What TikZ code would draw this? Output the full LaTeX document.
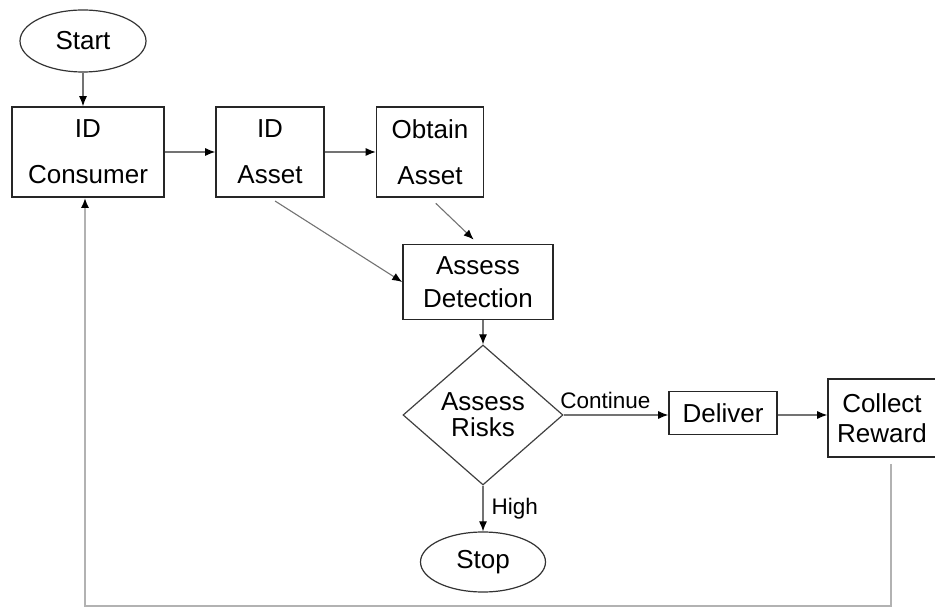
\documentclass[tikz,border=0pt]{standalone}
\usepackage{fontspec}
\setmainfont{Liberation Sans}
\usetikzlibrary{shapes.geometric,arrows.meta}
\begin{document}
\begin{tikzpicture}[x=1pt,y=-1pt,
    every node/.style={font=\fontsize{26}{30}\selectfont,align=center,inner sep=0pt},
    box/.style={draw=black!85,line width=1.6pt,rectangle},
    oval/.style={draw=black!80,line width=1.2pt,ellipse},
    lbl/.style={font=\fontsize{22.5}{26}\selectfont},
    link/.style={draw=black!55,line width=1.1pt,-{Latex[length=10pt,width=8pt,black]}},
    back/.style={draw=black!30,line width=2.2pt,-{Latex[length=10pt,width=8pt,black]}}]
  \useasboundingbox (0,0) rectangle (935,609);
  \node[oval,minimum width=126,minimum height=62] (start) at (83,41) {Start};
  \node[box,minimum width=152,minimum height=90] (idcons) at (88,152) {ID\\[16pt]Consumer};
  \node[box,minimum width=108,minimum height=90] (idasset) at (270,152) {ID\\[16pt]Asset};
  \node[box,minimum width=107,minimum height=90] (obtain) at (430,152) {Obtain\\[16pt]Asset};
  \node[box,minimum width=150,minimum height=75] (detect) at (478,282) {Assess\\[3pt]Detection};
  \node[diamond,draw=black!75,line width=1.2pt,minimum width=160,minimum height=140] (risk) at (483,415) {Assess\\[-4pt]Risks};
  \node[box,minimum width=108,minimum height=43] (deliver) at (723,413) {Deliver};
  \node[box,minimum width=108,minimum height=78] (reward) at (882,418) {Collect\\Reward};
  \node[oval,minimum width=125,minimum height=60] (stop) at (483,562) {Stop};
  \coordinate (loop) at (85,606);
  % main flow
  \draw[link] (start) -- (start |- idcons.north);
  \draw[link] (idcons) -- (idasset);
  \draw[link] (idasset) -- (obtain);
  \draw[link,shorten <=6pt] (idasset.south) -- (detect.west);
  \draw[link,shorten <=8pt,shorten >=6pt] (obtain.south) -- (detect.north);
  \draw[link] (risk.north |- detect.south) -- (risk.north);
  \draw[link] (risk.east) -- (risk.east -| deliver.west) node[lbl,pos=0.4,above=6pt] (cont) {Continue};
  \draw[link] (deliver.east |- risk.east) -- (risk.east -| reward.west);
  \draw[link] (risk.south) -- (stop.north) node[lbl,midway,right=8pt] (high) {High};
  % loop back
  \draw[back,shorten <=6pt] (reward.south -| 891,0) |- (loop) -- (loop |- idcons.south);
\end{tikzpicture}
\end{document}
